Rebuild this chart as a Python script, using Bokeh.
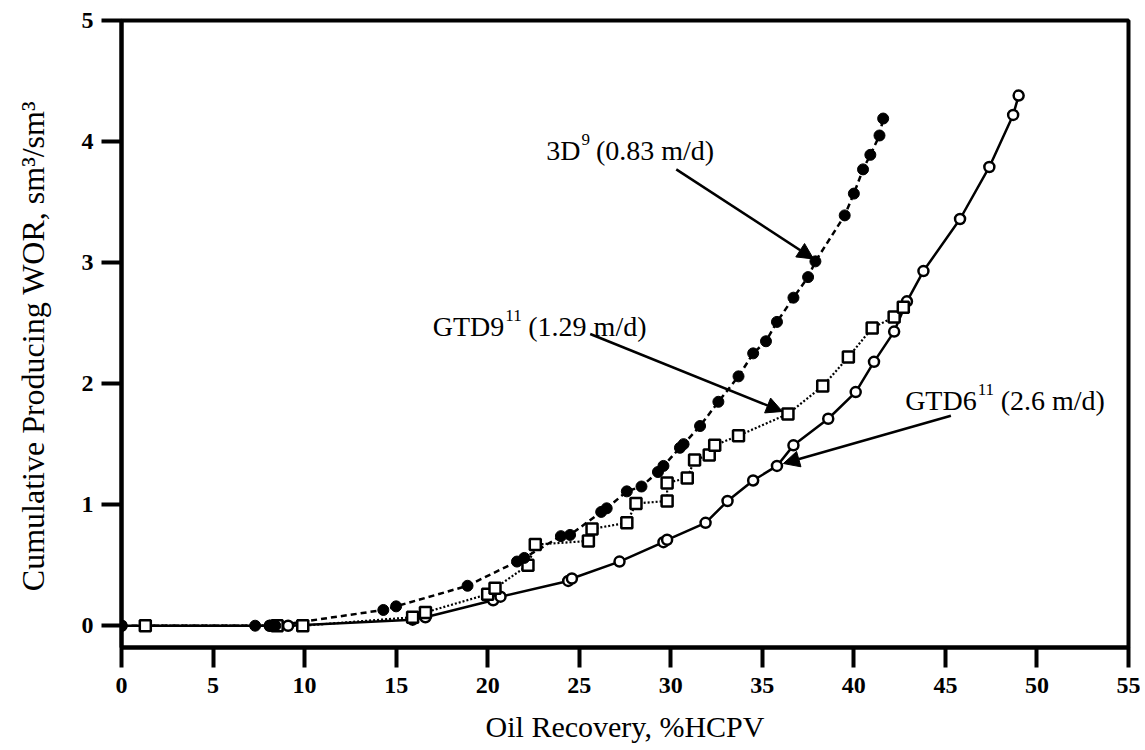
from bokeh.plotting import figure
from bokeh.models import Arrow, NormalHead, Range1d, FixedTicker
from bokeh.core.properties import value
from bokeh.embed import file_html
from bokeh.resources import INLINE

# ---- data ----
x_3d9 = [0, 7.3, 8.1, 8.4, 14.3, 15.0, 18.9, 21.6, 22.0, 24.0, 24.5, 26.2, 26.5, 27.6, 28.4,
         29.3, 29.6, 30.5, 30.7, 31.6, 32.6, 33.7, 34.5, 35.2, 35.8, 36.7, 37.5, 37.9,
         39.5, 40.0, 40.5, 40.9, 41.4, 41.6]
y_3d9 = [0, 0, 0, 0, 0.13, 0.16, 0.33, 0.53, 0.56, 0.74, 0.75, 0.94, 0.97, 1.11, 1.15,
         1.27, 1.32, 1.47, 1.50, 1.65, 1.85, 2.06, 2.25, 2.35, 2.51, 2.71, 2.88, 3.01,
         3.39, 3.57, 3.77, 3.89, 4.05, 4.19]

x_gtd9 = [1.3, 8.5, 9.9, 15.9, 16.6, 20.0, 20.4, 22.2, 22.6, 25.5, 25.7, 27.6, 28.1, 29.8,
          29.8, 30.9, 31.3, 32.1, 32.4, 33.7, 36.4, 38.3, 39.7, 41.0, 42.2, 42.7]
y_gtd9 = [0, 0, 0, 0.07, 0.11, 0.26, 0.31, 0.50, 0.67, 0.70, 0.80, 0.85, 1.01, 1.03,
          1.18, 1.22, 1.37, 1.41, 1.49, 1.57, 1.75, 1.98, 2.22, 2.46, 2.55, 2.63]

x_gtd6 = [0, 8.1, 9.1, 15.9, 16.6, 20.3, 20.7, 24.4, 24.6, 27.2, 29.6, 29.8, 31.9, 33.1,
          34.5, 35.8, 36.7, 38.6, 40.1, 41.1, 42.2, 42.9, 43.8, 45.8, 47.4, 48.7, 49.0]
y_gtd6 = [0, 0, 0, 0.05, 0.07, 0.21, 0.24, 0.37, 0.39, 0.53, 0.69, 0.71, 0.85, 1.03,
          1.20, 1.32, 1.49, 1.71, 1.93, 2.18, 2.43, 2.68, 2.93, 3.36, 3.79, 4.22, 4.38]

x_ticks = [0, 5, 10, 15, 20, 25, 30, 35, 40, 45, 50, 55]
y_ticks = [0, 1, 2, 3, 4, 5]

# annotation texts: base name, superscript, rest
label_base = ["3D", "GTD9", "GTD6"]
label_sup = ["9", "11", "11"]
label_rest = ["(0.83 m/d)", "(1.29 m/d)", "(2.6 m/d)"]
label_x = [23.2, 17.0, 42.8]
label_y = [3.93, 2.475, 1.86]
arrow_start = [(30.3, 3.77), (25.6, 2.41), (45.3, 1.735)]
arrow_end = [(37.8, 3.03), (36.1, 1.77), (36.15, 1.34)]

FONT = "Liberation Serif"
FS = 28      # annotation font size, px
SFS = 17     # superscript font size, px

# Times-metric widths (em/1000) used to place superscripts and trailing text
W = {"3": 500, "D": 722, "G": 722, "T": 611, "9": 500, "6": 500, "1": 500}


def width_px(s, size):
    return sum(W[c] for c in s) * size / 1000.0


p = figure(width=1140, height=745, x_range=Range1d(0, 55), y_range=Range1d(-0.18, 5),
           output_backend="svg", toolbar_location=None,
           min_border_left=121, min_border_right=12, min_border_top=20, min_border_bottom=95,
           x_axis_label="Oil Recovery, %HCPV",
           y_axis_label="Cumulative Producing WOR, sm\u00b3/sm\u00b3\u00a0\u00a0\u00a0")

p.xgrid.visible = False
p.ygrid.visible = False
p.outline_line_color = "black"
p.outline_line_width = 4
p.background_fill_color = "white"
p.border_fill_color = "white"

for ax, ticks in ((p.xaxis[0], x_ticks), (p.yaxis[0], y_ticks)):
    ax.ticker = FixedTicker(ticks=ticks)
    ax.axis_line_width = 4
    ax.axis_line_color = "black"
    ax.major_tick_line_width = 4
    ax.major_tick_line_color = "black"
    ax.major_tick_out = 20
    ax.major_tick_in = 0
    ax.minor_tick_out = 0
    ax.minor_tick_in = 0
    ax.major_label_text_font = FONT
    ax.major_label_text_font_size = "24px"
    ax.major_label_text_font_style = "bold"
    ax.major_label_text_color = "black"
    ax.axis_label_text_font = FONT
    ax.axis_label_text_font_style = "normal"
    ax.axis_label_text_color = "black"

p.xaxis[0].axis_label_text_font_size = "30px"
p.yaxis[0].axis_label_text_font_size = "32px"
p.xaxis[0].major_label_standoff = 10
p.yaxis[0].major_label_standoff = 8
p.xaxis[0].axis_label_standoff = 14
p.yaxis[0].axis_label_standoff = 28

# lines
p.line(x_gtd6, y_gtd6, line_color="black", line_width=2.5)
p.line(x_gtd9, y_gtd9, line_color="black", line_width=2.2, line_dash="2 2")
p.line(x_3d9, y_3d9, line_color="black", line_width=2.5, line_dash="6 4")

# markers
p.scatter(x_gtd6, y_gtd6, marker="circle", size=10, fill_color="white",
          line_color="black", line_width=2.5)
p.scatter(x_gtd9, y_gtd9, marker="square", size=11, fill_color="white",
          line_color="black", line_width=2.5)
p.scatter(x_3d9, y_3d9, marker="circle", size=11, fill_color="black",
          line_color="black", line_width=1)

# annotations
base_w = [width_px(s, FS) for s in label_base]
sup_w = [width_px(s, SFS) for s in label_sup]
p.text(x=label_x, y=label_y, text=label_base, text_font=value(FONT),
       text_font_size=f"{FS}px", text_baseline="alphabetic", text_align="left",
       text_color="black")
p.text(x=label_x, y=label_y, text=label_sup, text_font=value(FONT),
       text_font_size=f"{SFS}px", text_baseline="alphabetic", text_align="left",
       text_color="black", x_offset=[b + 1 for b in base_w], y_offset=-11)
p.text(x=label_x, y=label_y, text=label_rest, text_font=value(FONT),
       text_font_size=f"{FS}px", text_baseline="alphabetic", text_align="left",
       text_color="black", x_offset=[b + s + 7 for b, s in zip(base_w, sup_w)])

for (xs, ys), (xe, ye) in zip(arrow_start, arrow_end):
    p.add_layout(Arrow(x_start=xs, y_start=ys, x_end=xe, y_end=ye,
                       line_width=2.5, line_color="black",
                       end=NormalHead(size=16, fill_color="black",
                                      line_color="black", line_width=1)))

open("out.html", "w").write(file_html(p, INLINE))
